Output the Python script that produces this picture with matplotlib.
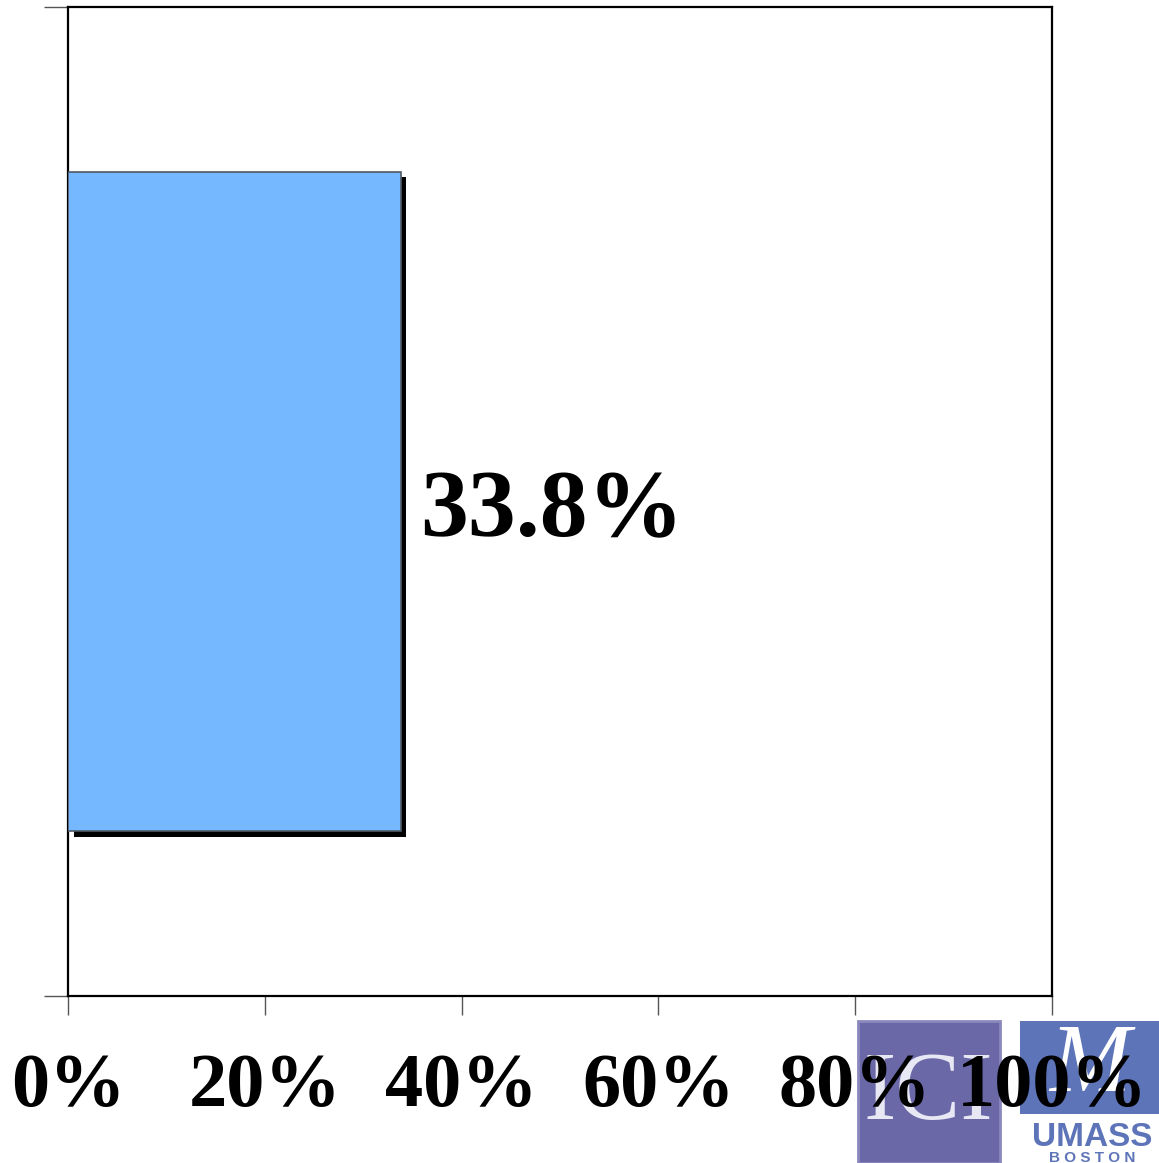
import matplotlib.pyplot as plt
import matplotlib.patheffects as pe
from matplotlib.patches import Rectangle

# data
categories = ['']
values = [33.8]
xticks = [0, 20, 40, 60, 80, 100]
xtick_labels = ['0%', '20%', '40%', '60%', '80%', '100%']

plt.rcParams['font.family'] = ['Liberation Serif', 'DejaVu Serif']

fig = plt.figure(figsize=(11.59, 11.63), dpi=100)
ax = fig.add_axes([0.0587, 0.1436, 0.849, 0.8504])

bars = ax.barh(range(len(categories)), values, height=0.667,
               color='#75b8ff', edgecolor='#505a66', linewidth=1.2, zorder=3)
for b in bars:
    b.set_path_effects([pe.SimplePatchShadow(offset=(4, -4), shadow_rgbFace='black', alpha=1.0),
                        pe.Normal()])

for i, v in enumerate(values):
    ax.text(v + 2.0, i - 0.012, f'{v:.1f}%', ha='left', va='center',
            fontsize=69, fontweight='bold', color='black')

ax.set_xlim(0, 100)
ax.set_ylim(-0.5, 0.5)
ax.set_xticks(xticks)
ax.set_xticklabels(xtick_labels, fontsize=55, fontweight='bold')
ax.set_yticks([-0.5, 0.5])
ax.set_yticklabels(['', ''])
ax.tick_params(axis='x', direction='out', length=14, width=1, color='#555555', pad=27)
ax.tick_params(axis='y', direction='out', length=17, width=1, color='#555555')
for s in ax.spines.values():
    s.set_linewidth(1.6)
    s.set_color('black')

# logos (rough)
fig.patches.append(Rectangle((0.740, 0.0), 0.1225, 0.122, transform=fig.transFigure,
                             facecolor='#6b68a8', edgecolor='#8a88bd', linewidth=2, zorder=-1))
fig.text(0.801, 0.058, 'ICI', ha='center', va='center', fontsize=70, color='#e8e8f4',
         zorder=-1, family='Liberation Serif')
fig.patches.append(Rectangle((0.880, 0.042), 0.12, 0.08, transform=fig.transFigure,
                             facecolor='#5d74b8', edgecolor='none', zorder=-1))
fig.text(0.94, 0.082, 'M', ha='center', va='center', fontsize=70, color='white',
         style='italic', zorder=-1)
fig.text(0.942, 0.022, 'UMASS', ha='center', va='center', fontsize=24, color='#5d74b8',
         fontweight='bold', family='Liberation Sans', zorder=-1)
fig.text(0.942, 0.004, 'B O S T O N', ha='center', va='center', fontsize=11, color='#5d74b8',
         fontweight='bold', family='Liberation Sans', zorder=-1)

fig.savefig('out.png', dpi=100, facecolor='white')
